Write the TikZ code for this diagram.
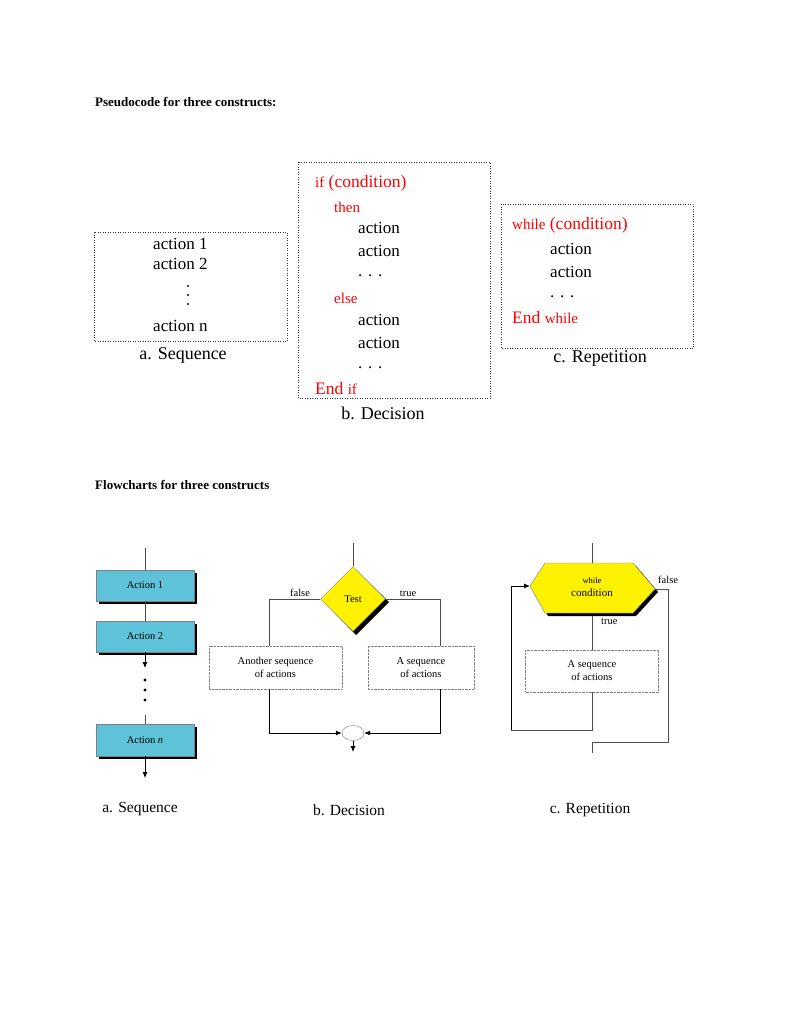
\documentclass[tikz,border=0pt]{standalone}
\usepackage{fontspec}
\setmainfont{Liberation Serif}
\usetikzlibrary{shapes.geometric,arrows.meta}
\definecolor{actc}{HTML}{5EC3D8}
\begin{document}
\begin{tikzpicture}[x=1pt,y=-1pt,
  pbox/.style={draw=black!80,dotted,line width=0.5pt},
  ptext/.style={anchor=west,inner sep=0,font=\fontsize{17}{17}\selectfont},
  kw/.style={anchor=west,inner sep=0,text=red,font=\fontsize{15}{15}\selectfont},
  kwb/.style={anchor=west,inner sep=0,text=red,font=\fontsize{17.5}{17.5}\selectfont},
  capt/.style={inner sep=0,font=\fontsize{18}{18}\selectfont},
  fcap/.style={inner sep=0,font=\fontsize{15.5}{15.5}\selectfont},
  title/.style={anchor=west,inner sep=0,font=\bfseries\fontsize{13}{13}\selectfont},
  act/.style={draw=gray,fill=actc,minimum width=98pt,minimum height=31pt,inner sep=0,
     font=\fontsize{10.5}{10.5}\selectfont},
  fbox/.style={draw=gray,densely dotted,inner sep=0,align=center,font=\fontsize{10.5}{13}\selectfont},
  ln/.style={draw=gray!60!black,line width=0.8pt},
  arr/.style={ln,-{Latex[length=6pt,width=5pt]},draw=black},
  small/.style={inner sep=1pt,font=\fontsize{10.5}{10.5}\selectfont}]
\useasboundingbox (0,0) rectangle (800,1035);
\fill[white] (0,0) rectangle (800,1035);
% titles
\node[title] (t1) at (95,102) {Pseudocode for three constructs:};
\node[title] (t2) at (95,485) {Flowcharts for three constructs};
% pseudocode a
\draw[pbox] (94,232) rectangle (287,341);
\node[ptext] (a1) at (153,244) {action 1};
\node[ptext] (a2) at (153,264) {action 2};
\foreach \y in {286,295,304} \fill (188,\y) circle (1.2pt);
\node[ptext] (an) at (153,326) {action n};
\node[capt] (ca) at (183,355) {a. Sequence};
% pseudocode b
\draw[pbox] (298,162) rectangle (490,398);
\node[kwb] (b1) at (315,183) {{\fontsize{15}{15}\selectfont if} (condition)};
\node[kw] (b2) at (334,207) {then};
\node[ptext] (b3) at (358,228) {action};
\node[ptext] (b4) at (358,251) {action};
\node[ptext] (b5) at (358,276) {. . .};
\node[kw] (b6) at (334,298) {else};
\node[ptext] (b7) at (358,320) {action};
\node[ptext] (b8) at (358,343) {action};
\node[ptext] (b9) at (358,368) {. . .};
\node[kwb] (b10) at (315,389) {End {\fontsize{15}{15}\selectfont if}};
\node[capt] (cb) at (383,413) {b. Decision};
% pseudocode c
\draw[pbox] (501,204) rectangle (693,348);
\node[kwb] (c1) at (512,225) {{\fontsize{15}{15}\selectfont while} (condition)};
\node[ptext] (c2) at (550,249) {action};
\node[ptext] (c3) at (550,272) {action};
\node[ptext] (c4) at (550,297) {. . .};
\node[kwb] (c5) at (512,318) {End {\fontsize{15}{15}\selectfont while}};
\node[capt] (cc) at (600,358) {c. Repetition};
% flowchart a
\coordinate (s0) at (145,548);
\fill (99,573) rectangle (197,604);
\node[act] (f1) at (145,585.5) {Action 1};
\fill (99,624) rectangle (197,655);
\node[act] (f2) at (145,636.5) {Action 2};
\coordinate (d1) at (145,668);
\foreach \y in {680,690,700} \fill (145,\y) circle (1.6pt);
\coordinate (d2) at (145,715);
\fill (99,727) rectangle (197,759);
\node[act,minimum height=32pt] (f3) at (145,740) {Action \textit{n}};
\coordinate (e1) at (145,778);
\draw[ln] (s0) -- (f1);
\draw[ln] (f1) -- (f2);
\draw[arr] (f2.south) -- (d1);
\draw[ln] (d2) -- (f3);
\draw[arr] (f3.south) -- (e1);
\node[fcap] (fa) at (140,809) {a. Sequence};
% flowchart b
\coordinate (g0) at (353,543);
\fill (324,602) -- (356,570) -- (389,602) -- (356,635) -- cycle;
\node[diamond,draw=gray,fill=yellow,minimum width=65pt,minimum height=65pt,inner sep=0,aspect=1,font=\fontsize{10.5}{10.5}\selectfont] (test) at (353,599) {Test};
\node[fbox,minimum width=133pt,minimum height=43pt] (bl) at (275.5,667.5) {Another sequence\\of actions};
\node[fbox,minimum width=106pt,minimum height=43pt] (br) at (421,667.5) {A sequence\\of actions};
\node[ellipse,draw=gray,minimum width=22pt,minimum height=15pt,inner sep=0] (j) at (353,733) {};
\coordinate (j2) at (353,752);
\draw[ln] (g0) -- (test);
\draw[ln] (test.west) -| (bl.north -| 269,0);
\draw[ln] (test.east) -| (br.north -| 440,0);
\draw[arr] (bl.south -| 269,0) |- (j.west);
\draw[arr] (br.south -| 440,0) |- (j.east);
\draw[arr] (j.south) -- (j2);
\node[small,anchor=south] (lf) at (300,598) {false};
\node[small,anchor=south] (lt) at (408,598) {true};
\node[fcap] (fb) at (349,810) {b. Decision};
% flowchart c
\coordinate (h0) at (592,543);
\fill (548,566) -- (636,566) -- (658,592) -- (636,616) -- (548,616) -- (533,589) -- cycle;
\draw[draw=gray,fill=yellow] (545,563) -- (633,563) -- (655,589) -- (633,613) -- (545,613) -- (530,586) -- cycle;
\coordinate (hl) at (530,586);
\coordinate (hr) at (655,589);
\coordinate (ht) at (592,563);
\node[inner sep=0,align=center] (hx) at (592,587) {{\fontsize{8.5}{8.5}\selectfont while}\\[1pt]{\fontsize{11}{11}\selectfont condition}};
\coordinate (hb) at (592,616);
\node[fbox,minimum width=133pt,minimum height=42pt] (rb) at (592,671) {A sequence\\of actions};
\coordinate (r1) at (592,730);
\coordinate (r2) at (511,730);
\coordinate (q1) at (668,742);
\coordinate (q2) at (592,742);
\coordinate (q3) at (592,753);
\draw[ln] (h0) -- (ht);
\draw[ln] (hb) -- (rb);
\draw[ln] (rb) -- (r1) -- (r2);
\draw[arr] (r2) |- (hl);
\draw[ln] (hr) -| (q1) -- (q2) -- (q3);
\node[small,anchor=west] (lt2) at (600,622) {true};
\node[small,anchor=west] (lf2) at (657,580) {false};
\node[fcap] (fc) at (590,810) {c. Repetition};
\end{tikzpicture}
\end{document}
